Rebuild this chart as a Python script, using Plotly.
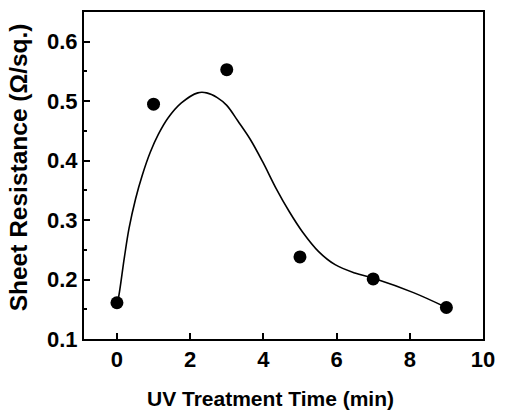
import plotly.graph_objects as go

# measured points
time_min = [0, 1, 3, 5, 7, 9]
resistance = [0.161, 0.495, 0.553, 0.238, 0.201, 0.153]

# fitted curve
fit_x = [0, 0.04, 0.20, 0.33, 0.51, 0.69, 0.91, 1.13, 1.40, 1.76, 2.21, 2.45, 2.74, 3.0, 3.3,
         3.64, 3.99, 4.35, 4.71, 5.07, 5.51, 5.96, 6.5, 7.03, 8.1, 9]
fit_y = [0.161, 0.169, 0.236, 0.286, 0.336, 0.375, 0.414, 0.444, 0.472, 0.497, 0.514, 0.514,
         0.506, 0.493, 0.467, 0.436, 0.397, 0.353, 0.314, 0.28, 0.247, 0.225, 0.211, 0.2017,
         0.178, 0.153]

x_ticks = [0, 2, 4, 6, 8, 10]
y_ticks = [0.1, 0.2, 0.3, 0.4, 0.5, 0.6]
x_title = "UV Treatment Time (min)"
y_title = "Sheet Resistance (Ω/sq.)"

FAM = "Liberation Sans, Arial, sans-serif"
TICKFONT = dict(family=FAM, size=22, color="black", weight="bold")
XTFONT = dict(family=FAM, size=21, color="black", weight="bold")
YTFONT = dict(family=FAM, size=24.5, color="black", weight="bold")

fig = go.Figure()
fig.add_trace(go.Scatter(x=fit_x, y=fit_y, mode="lines",
                         line=dict(color="black", width=1.6, shape="spline", smoothing=1.0),
                         hoverinfo="skip", showlegend=False))
fig.add_trace(go.Scatter(x=time_min, y=resistance, mode="markers",
                         marker=dict(color="black", size=13), showlegend=False))

axis_common = dict(showline=True, linecolor="black", linewidth=2, mirror=True,
                   ticks="inside", tickcolor="black", tickwidth=1.5, ticklen=6,
                   showgrid=False, zeroline=False, tickfont=TICKFONT)

fig.update_xaxes(range=[-0.9, 10], tickvals=x_ticks, ticktext=[str(v) for v in x_ticks],
                 **axis_common)
fig.update_yaxes(range=[0.1, 0.65], tickvals=y_ticks, ticktext=[f"{v:.1f}" for v in y_ticks],
                 minor=dict(dtick=0.05, ticks="inside", ticklen=3, tickcolor="black", tickwidth=1.5),
                 **axis_common)

fig.add_annotation(text=x_title, xref="paper", yref="paper", x=0.468, y=-0.182,
                   xanchor="center", yanchor="middle", showarrow=False, font=XTFONT)
fig.add_annotation(text=y_title, xref="paper", yref="paper", x=-0.162, y=0.526,
                   xanchor="center", yanchor="middle", textangle=-90, showarrow=False, font=YTFONT)

fig.update_layout(width=505, height=412, margin=dict(l=84, r=13, t=10, b=73),
                  plot_bgcolor="white", paper_bgcolor="white")

fig.write_html("out.html")
